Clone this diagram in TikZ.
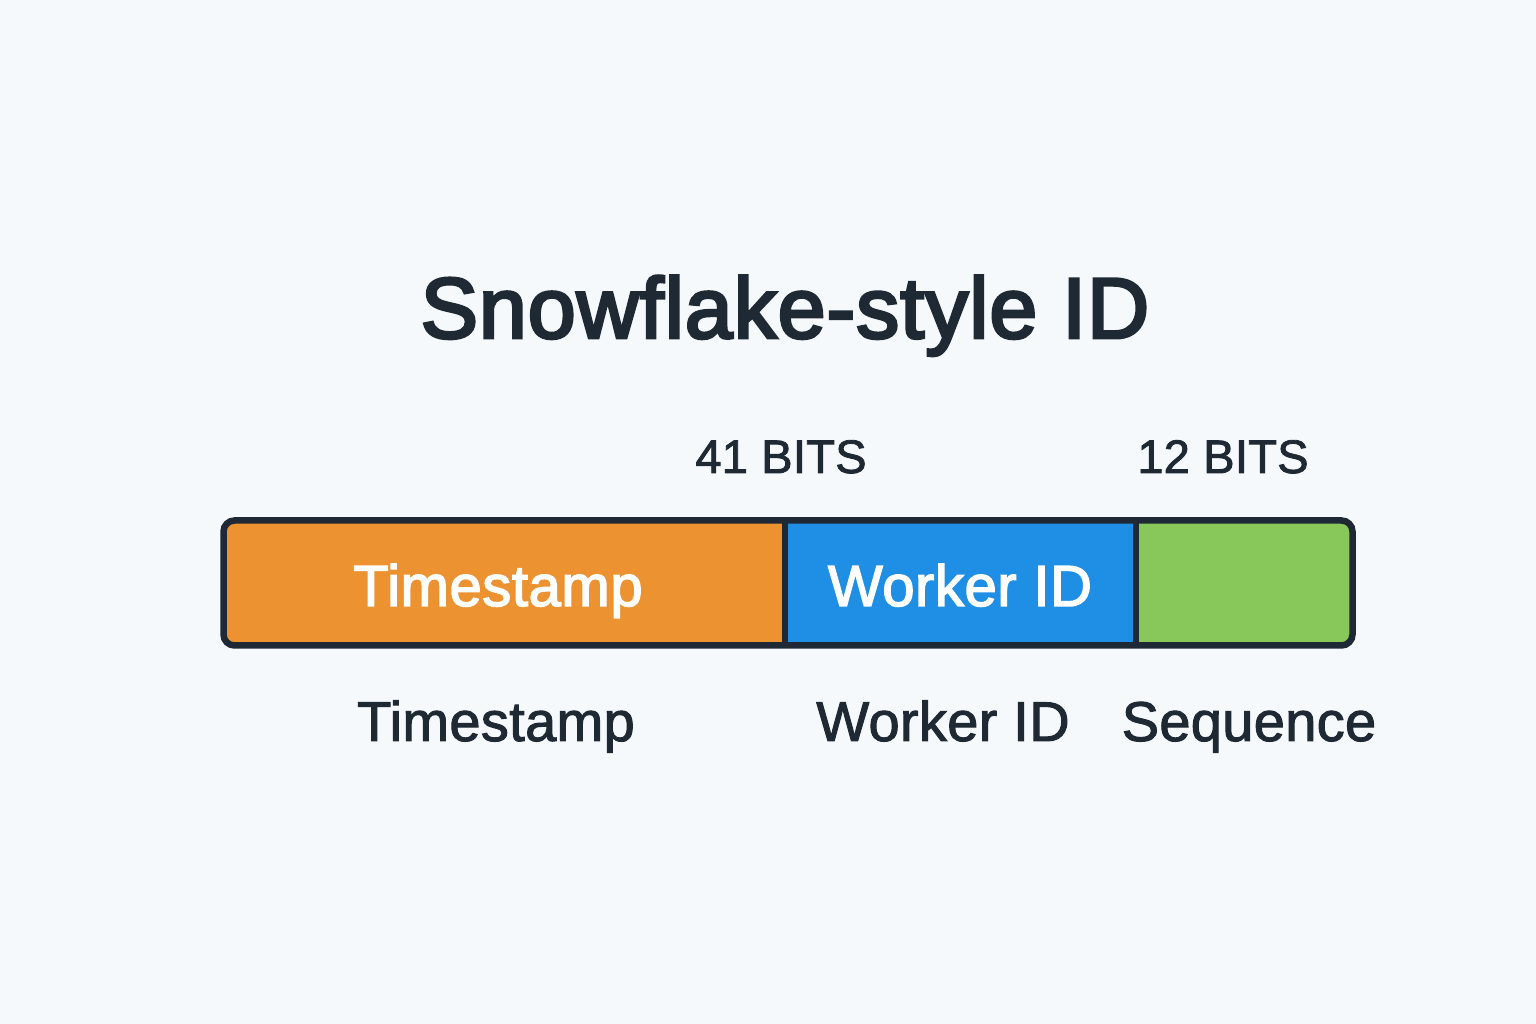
\documentclass[tikz,border=0pt]{standalone}
\usepackage{fontspec}
\setmainfont{Liberation Sans}
\newfontfamily\titlefont[FakeBold=3.5,LetterSpace=1.2]{Liberation Sans}
\newfontfamily\midfont[FakeBold=2.5,LetterSpace=1.0]{Liberation Sans}
\newfontfamily\labfont[FakeBold=1.8,LetterSpace=0.6]{Liberation Sans}
\definecolor{bgc}{HTML}{F5F9FC}
\definecolor{ink}{HTML}{1F2933}
\definecolor{outl}{HTML}{1E2935}
\definecolor{orangec}{HTML}{EC9231}
\definecolor{bluec}{HTML}{1F8FE5}
\definecolor{greenc}{HTML}{88C85A}
\begin{document}
\begin{tikzpicture}[x=1pt,y=1pt,
  seg/.style={rectangle, inner sep=0pt, minimum height=140pt, anchor=west},
  intext/.style={text=white, font=\midfont\fontsize{58}{70}\selectfont, anchor=base},
  bits/.style={text=ink, font=\labfont\fontsize{47}{58}\selectfont, anchor=base},
  lab/.style={text=ink, font=\labfont\fontsize{56}{68}\selectfont, anchor=base}]
\useasboundingbox (0,0) rectangle (1536,1024);
\fill[bgc] (0,0) rectangle (1536,1024);
% title
\node[text=ink, font=\titlefont\fontsize{86}{100}\selectfont, anchor=base] (title) at (785,686) {Snowflake-style ID};
% bits labels
\node[bits] (b41) at (781,551) {41 BITS};
\node[bits] (b12) at (1223,551) {12 BITS};
% bar segments
\begin{scope}
\clip[rounded corners=11pt] (223.5,378.5) rectangle (1352.5,503.5);
\node[seg, fill=orangec, minimum width=562pt] (ts) at (220,441) {};
\node[seg, fill=bluec, minimum width=351pt] (wk) at (785,441) {};
\node[seg, fill=greenc, minimum width=222pt] (sq) at (1136,441) {};
\end{scope}
\draw[outl, line width=6.5pt, rounded corners=11pt] (223.5,378.5) rectangle (1352.5,503.5);
\coordinate (d1t) at (785,503.5);
\coordinate (d1b) at (785,378.5);
\coordinate (d2t) at (1136,503.5);
\coordinate (d2b) at (1136,378.5);
\draw[outl, line width=5.5pt] (d1t) -- (d1b);
\draw[outl, line width=5.5pt] (d2t) -- (d2b);
% inner texts
\node[intext] (tstext) at (498,418) {Timestamp};
\node[intext] (wktext) at (960,418) {Worker ID};
% bottom labels
\node[lab] (l1) at (496,283) {Timestamp};
\node[lab] (l2) at (943,283) {Worker ID};
\node[lab] (l3) at (1249,283) {Sequence};
\end{tikzpicture}
\end{document}
